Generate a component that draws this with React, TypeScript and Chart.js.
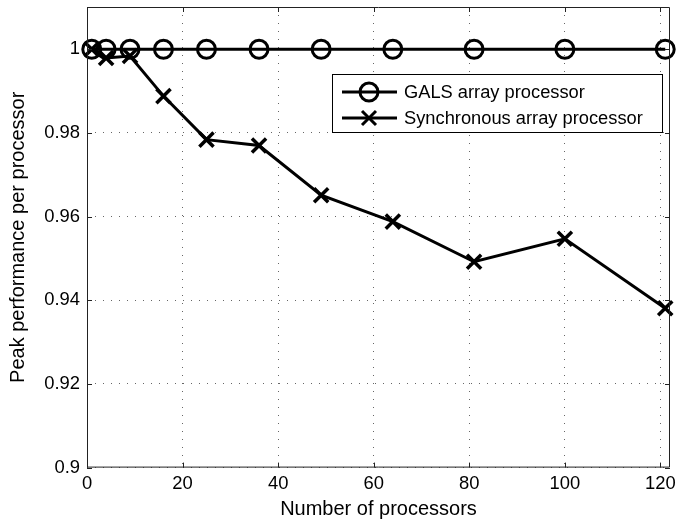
import React, { useEffect, useRef } from "react";
import { Chart, registerables } from "chart.js";

Chart.register(...registerables);

const processors = [1, 4, 9, 16, 25, 36, 49, 64, 81, 100, 121];
const galsPerf = [1, 1, 1, 1, 1, 1, 1, 1, 1, 1, 1];
const syncPerf = [1.0, 0.9979, 0.9984, 0.9888, 0.9784, 0.977, 0.9651, 0.9588, 0.9492, 0.9547, 0.9381];
const xTicks = [0, 20, 40, 60, 80, 100, 120];
const yTicks = [0.9, 0.92, 0.94, 0.96, 0.98, 1];
const seriesLabels = ["GALS array processor", "Synchronous array processor"];
const xTitle = "Number of processors";
const yTitle = "Peak performance per processor";

const FONT = '"Liberation Sans", Arial, Helvetica, sans-serif';

const decorPlugin = {
  id: "decor",
  afterDatasetsDraw(chart: any) {
    const { ctx, chartArea } = chart;
    const { left, right, top, bottom } = chartArea;
    const xs = chart.scales.x;
    const ys = chart.scales.y;
    ctx.save();
    // box
    ctx.strokeStyle = "#222";
    ctx.lineWidth = 1;
    ctx.setLineDash([]);
    ctx.beginPath();
    ctx.moveTo(left + 0.5, top + 0.5);
    ctx.lineTo(right - 0.5, top + 0.5);
    ctx.lineTo(right - 0.5, bottom - 0.5);
    ctx.lineTo(left + 0.5, bottom - 0.5);
    ctx.closePath();
    ctx.stroke();
    // inward ticks
    const tl = 5;
    ctx.beginPath();
    for (const v of xTicks) {
      const px = Math.round(xs.getPixelForValue(v)) + 0.5;
      ctx.moveTo(px, bottom);
      ctx.lineTo(px, bottom - tl);
      ctx.moveTo(px, top);
      ctx.lineTo(px, top + tl);
    }
    for (const v of yTicks) {
      const py = Math.round(ys.getPixelForValue(v)) + 0.5;
      ctx.moveTo(left, py);
      ctx.lineTo(left + tl, py);
      ctx.moveTo(right, py);
      ctx.lineTo(right - tl, py);
    }
    ctx.stroke();

    // legend
    const bx1 = right - 338;
    const bx2 = right - 8;
    const by1 = top + 67;
    const by2 = top + 125;
    ctx.fillStyle = "#fff";
    ctx.fillRect(bx1, by1, bx2 - bx1, by2 - by1);
    ctx.strokeStyle = "#000";
    ctx.lineWidth = 1;
    ctx.strokeRect(bx1 + 0.5, by1 + 0.5, bx2 - bx1, by2 - by1);
    const rows = [by1 + 18, by1 + 44];
    chart.data.datasets.forEach((ds: any, i: number) => {
      const y = rows[i];
      ctx.strokeStyle = "#000";
      ctx.lineWidth = 3;
      ctx.beginPath();
      ctx.moveTo(bx1 + 10, y);
      ctx.lineTo(bx1 + 65, y);
      ctx.stroke();
      const cx = bx1 + 37;
      ctx.beginPath();
      if (ds.pointStyle === "circle") {
        ctx.arc(cx, y, 9, 0, Math.PI * 2);
      } else {
        const o = 7;
        ctx.moveTo(cx - o, y - o);
        ctx.lineTo(cx + o, y + o);
        ctx.moveTo(cx + o, y - o);
        ctx.lineTo(cx - o, y + o);
      }
      ctx.stroke();
      ctx.fillStyle = "#000";
      ctx.font = `18.3px ${FONT}`;
      ctx.textAlign = "left";
      ctx.textBaseline = "middle";
      ctx.fillText(ds.label, bx1 + 72, y + 1);
    });

    // axis titles
    ctx.fillStyle = "#000";
    ctx.font = `20px ${FONT}`;
    ctx.textAlign = "center";
    ctx.textBaseline = "middle";
    ctx.fillText(xTitle, (left + right) / 2, 509);
    ctx.save();
    ctx.translate(18, (top + bottom) / 2);
    ctx.rotate(-Math.PI / 2);
    ctx.fillText(yTitle, 0, 0);
    ctx.restore();
    ctx.restore();
  },
};

export default function App() {
  const ref = useRef<HTMLCanvasElement | null>(null);
  useEffect(() => {
    document.body.style.margin = "0";
    const canvas = ref.current!;
    const chart = new Chart(canvas, {
      type: "line",
      data: {
        datasets: [
          {
            label: seriesLabels[0],
            data: processors.map((x, i) => ({ x, y: galsPerf[i] })),
            borderColor: "#000",
            borderWidth: 3,
            pointStyle: "circle",
            pointRadius: 9,
            pointBorderWidth: 3,
            pointBorderColor: "#000",
            pointBackgroundColor: "rgba(0,0,0,0)",
            fill: false,
            tension: 0,
            clip: false,
          },
          {
            label: seriesLabels[1],
            data: processors.map((x, i) => ({ x, y: syncPerf[i] })),
            borderColor: "#000",
            borderWidth: 3,
            pointStyle: "crossRot",
            pointRadius: 10,
            pointBorderWidth: 3.5,
            pointBorderColor: "#000",
            pointBackgroundColor: "#000",
            fill: false,
            tension: 0,
            clip: false,
          },
        ],
      },
      options: {
        animation: false,
        responsive: false,
        devicePixelRatio: 1,
        layout: { autoPadding: false, padding: { top: 7, right: 6, left: 0, bottom: 0 } },
        plugins: { legend: { display: false }, tooltip: { enabled: false } },
        scales: {
          x: {
            type: "linear",
            min: 0,
            max: 122,
            afterBuildTicks: (s: any) => {
              s.ticks = xTicks.map((v) => ({ value: v }));
            },
            afterFit: (s: any) => {
              s.height = 59.4;
              s.paddingLeft = 0;
              s.paddingRight = 0;
              s.paddingTop = 0;
              s.paddingBottom = 0;
            },
            ticks: {
              color: "#000",
              font: { family: FONT, size: 18.4 },
              padding: 5,
              maxRotation: 0,
              callback: (v: any) => String(v),
            },
            grid: { color: "rgba(0,0,0,0.6)", lineWidth: 1, drawTicks: false },
            border: { display: false, dash: [1, 7] },
          },
          y: {
            type: "linear",
            min: 0.9,
            max: 1.0101,
            afterBuildTicks: (s: any) => {
              s.ticks = yTicks.map((v) => ({ value: v }));
            },
            afterFit: (s: any) => {
              s.width = 87;
              s.paddingLeft = 0;
              s.paddingRight = 0;
              s.paddingTop = 0;
              s.paddingBottom = 0;
            },
            ticks: {
              color: "#000",
              font: { family: FONT, size: 18.4 },
              padding: 7,
              callback: (v: any) => String(Math.round(v * 100) / 100),
            },
            grid: { color: "rgba(0,0,0,0.6)", lineWidth: 1, drawTicks: false },
            border: { display: false, dash: [1, 7] },
          },
        },
      },
      plugins: [decorPlugin],
    } as any);
    return () => chart.destroy();
  }, []);
  return <canvas ref={ref} width={676} height={527} style={{ display: "block" }} />;
}
